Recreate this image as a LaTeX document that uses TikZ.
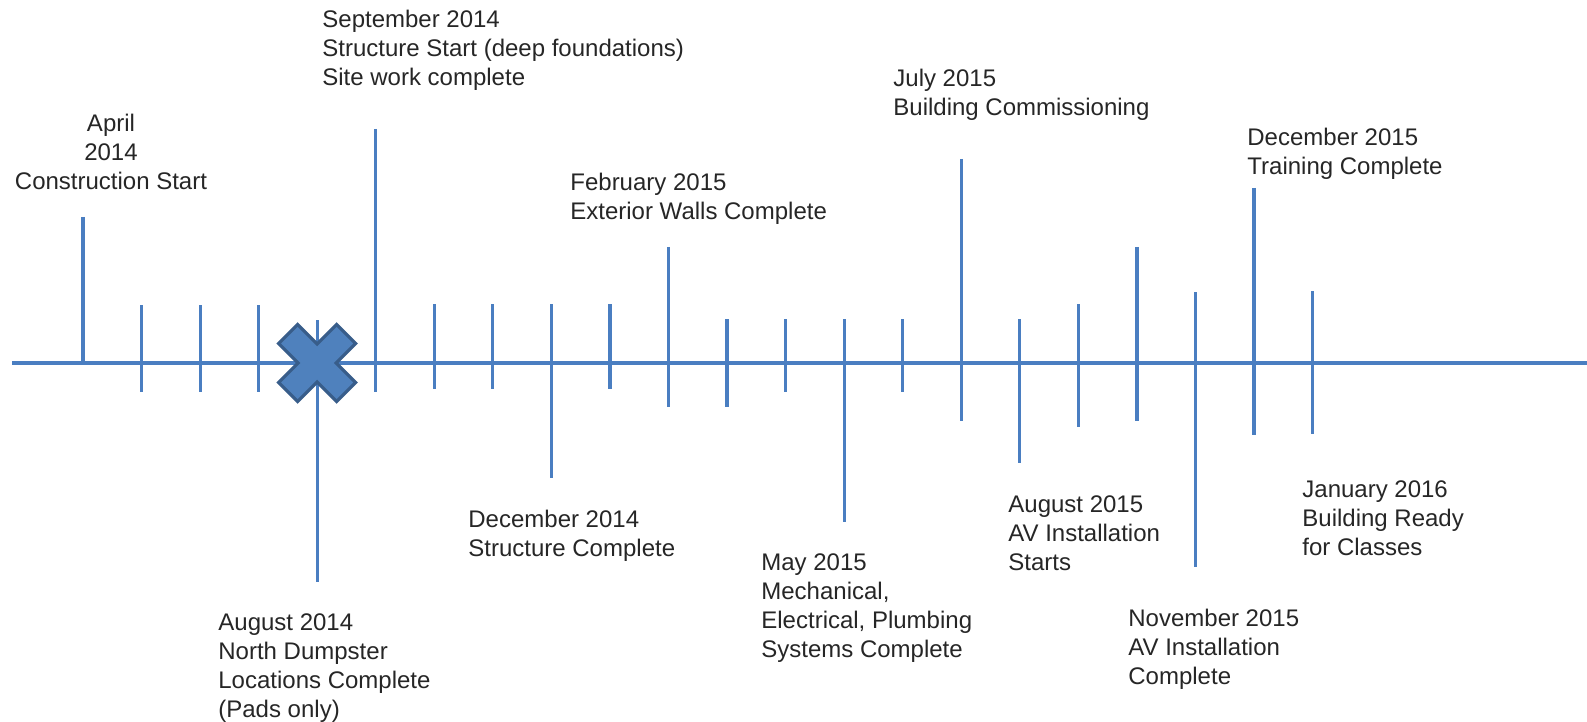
\documentclass[tikz,border=0pt]{standalone}
\usepackage{fontspec}
\setmainfont{Liberation Sans}
\usetikzlibrary{positioning}
\definecolor{tickblue}{RGB}{74,126,193}
\definecolor{crossfill}{RGB}{79,129,189}
\definecolor{crossline}{RGB}{56,93,138}
\definecolor{notegray}{RGB}{38,38,38}
\tikzset{
  axisline/.style = {draw=tickblue, line width=2pt},
  tick/.style = {draw=tickblue, line width=1.6pt},
  note/.style = {inner sep=0pt, align=left, anchor=base west, text=notegray,
    font=\fontsize{12}{14.5}\selectfont},
  cnote/.style = {note, align=center, anchor=base},
  crossmark/.style = {fill=crossfill, draw=crossline, line width=1.6pt, line join=miter},
}
\begin{document}
\begin{tikzpicture}[x=0.5pt, y=-0.5pt]
\useasboundingbox (0,0) rectangle (1587,722);

% time axis
\coordinate (axisL) at (12,363);
\coordinate (axisR) at (1587,363);
\draw [axisline] (axisL) -- (axisR);

% one tick per month, top/bottom end in picture rows
\foreach \up/\down [count=\i] in {217/363, 305/392, 305/392, 305/392, 320/582,
    129/392, 304/389, 304/389, 304/478, 304/389, 247/407, 319/407, 319/392,
    319/522, 319/392, 159/421, 319/463, 304/427, 247/421, 292/567, 188/435,
    291/434}
{
  \coordinate (t\i) at ({83+58.55*(\i-1)},363);
  \draw [tick] (t\i |- 0,\up) -- (t\i |- 0,\down);
}

% marker on August 2014
\draw [crossmark, shift={(t5)}] (0,-19) -- (19.5,-38.5) -- (38.5,-19.5) -- (19,0)
  -- (38.5,19.5) -- (19.5,38.5) -- (0,19) -- (-19.5,38.5) -- (-38.5,19.5)
  -- (-19,0) -- (-38.5,-19.5) -- (-19.5,-38.5) -- cycle;

% milestones above the axis (placed at the baseline of the last line)
\node [cnote] (apr14) at (111,190) {April\\2014\\Construction Start};
\node [note] (sep14) at (322,86) {September 2014\\Structure Start (deep foundations)\\Site work complete};
\node [note] (feb15) at (570,220) {February 2015\\Exterior Walls Complete};
\node [note] (jul15) at (893,116) {July 2015\\Building Commissioning};
\node [note] (dec15) at (1247,175) {December 2015\\Training Complete};

% milestones below the axis
\node [note] (aug14) at (218,717) {August 2014\\North Dumpster\\Locations Complete\\(Pads only)};
\node [note] (dec14) at (468,556) {December 2014\\Structure Complete};
\node [note] (may15) at (761,657) {May 2015\\Mechanical,\\Electrical, Plumbing\\Systems Complete};
\node [note] (aug15) at (1008,570) {August 2015\\AV Installation\\Starts};
\node [note] (nov15) at (1128,684) {November 2015\\AV Installation\\Complete};
\node [note] (jan16) at (1302,555) {January 2016\\Building Ready\\for Classes};
\end{tikzpicture}
\end{document}
